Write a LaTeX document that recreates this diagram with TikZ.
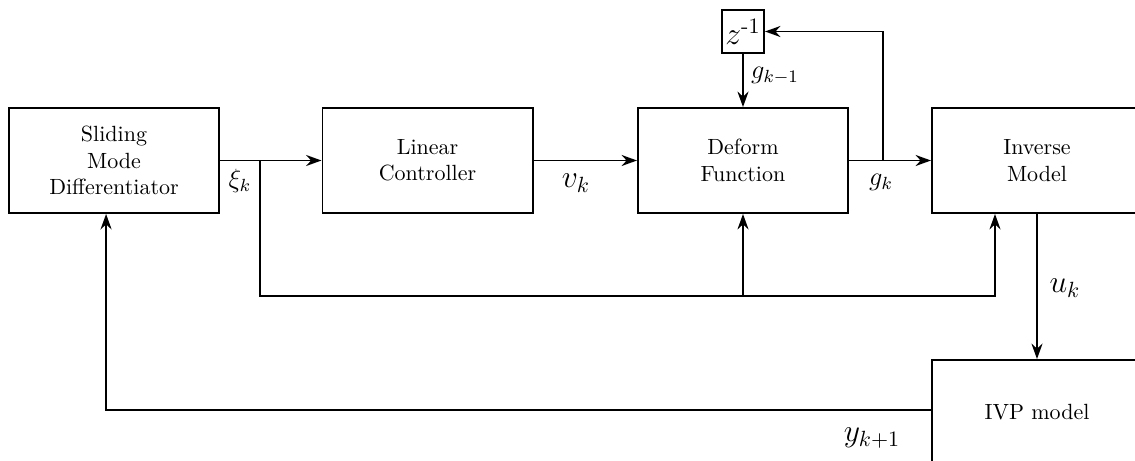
\documentclass[tikz,border=0pt]{standalone}
\usetikzlibrary{arrows.meta}
\begin{document}
\begin{tikzpicture}[x=0.4545pt,y=-0.4545pt,
  >={Stealth[length=7pt,width=5pt]}, line width=0.9pt,
  block/.style={draw, minimum width=95.45pt, minimum height=47.7pt, align=center, inner sep=0pt},
  delay/.style={draw, minimum size=19.1pt, inner sep=0pt, font=\Large},
  lbl/.style={inner sep=0pt, font=\large},
  biglbl/.style={inner sep=0pt, font=\Large}]
\clip (0,0) rectangle (1135,461);
\node[block] (smd) at (114,160.5) {Sliding\\Mode\\Differentiator};
\node[block] (lin) at (427.5,160.5) {Linear\\Controller};
\node[block] (def) at (743,160.5) {Deform\\Function};
\node[block] (inv) at (1037,160.5) {Inverse\\Model};
\node[block] (ivp) at (1037,412.5) {IVP model};
\node[delay] (z) at (743,31.5) {$z^{\mbox{\normalsize -1}}$};
\coordinate (b1) at (260,160.5);
\coordinate (bl) at (260,296);
\coordinate (bm) at (743,296);
\coordinate (br) at (995,296);
\coordinate (b3) at (883,160.5);
\draw[->] (smd.east) -- (lin.west);
\draw[->] (b1) -- (bl) -- (br) -- (br |- inv.south);
\draw[->] (bm) -- (def.south);
\draw[->] (lin.east) -- (def.west);
\draw[->] (def.east) -- (inv.west);
\draw[->] (b3) |- (z.east);
\draw[->] (z.south) -- (def.north);
\draw[->] (inv.south) -- (ivp.north);
\draw[->] ([yshift=1.1pt]ivp.west) -| ([xshift=-3.6pt]smd.south);
\node[lbl] (lxi) at (240,181) {$\xi_k$};
\node[lbl] (lgk) at (881,182) {$g_k$};
\node[lbl] (lgk1) at (775,76) {$g_{k-1}$};
\node[biglbl] (lvk) at (576,183) {$v_k$};
\node[biglbl] (luk) at (1065,288) {$u_k$};
\node[biglbl] (ly) at (872,438) {$y_{k+1}$};
\end{tikzpicture}
\end{document}
